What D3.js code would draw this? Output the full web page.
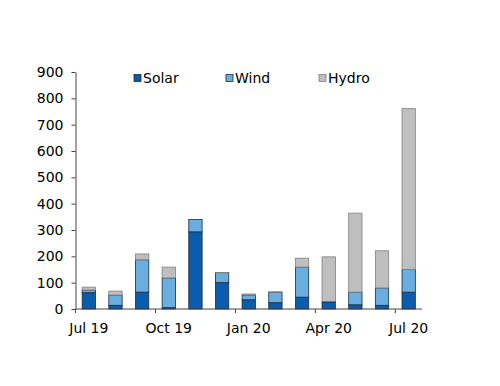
<!DOCTYPE html>
<html>
<head>
<meta charset="utf-8">
<script src="https://cdn.jsdelivr.net/npm/d3@7"></script>
<style>
  body { margin: 0; background: #fff; }
  svg text { font-family: "DejaVu Sans", Verdana, sans-serif; fill: #000; }
</style>
</head>
<body>
<svg id="chart" width="500" height="386"></svg>
<script>
// monthly values, Jul 19 .. Jul 20
const months = ['Jul 19', 'Aug 19', 'Sep 19', 'Oct 19', 'Nov 19', 'Dec 19',
                'Jan 20', 'Feb 20', 'Mar 20', 'Apr 20', 'May 20', 'Jun 20', 'Jul 20'];
const solar = [62, 14, 64, 5, 293, 100, 35, 24, 45, 27, 16, 14, 64];
const wind  = [10, 39, 123, 113, 47, 38, 18, 40, 114, 2, 48, 66, 86];
const hydro = [11, 15, 22, 41, 0, 1, 4, 1, 34, 169, 300, 141, 611];
const tickMonths = ['Jul 19', 'Oct 19', 'Jan 20', 'Apr 20', 'Jul 20'];
const yTicks = [0, 100, 200, 300, 400, 500, 600, 700, 800, 900];

const seriesNames = ['Solar', 'Wind', 'Hydro'];
const fills = {Solar: '#0b5cad', Wind: '#6aaee0', Hydro: '#bfbfbf'};
const strokes = {Solar: '#1b2b40', Wind: '#1b2b40', Hydro: '#7f7f7f'};

const fontSize = 14;

const
svg = d3.select('#chart'),
margin = {left: 75.5, right: 78, top: 72, bottom: 77},
width = 500 - margin.left - margin.right,
height = 386 - margin.top - margin.bottom,
g = svg.append('g').attr('transform', `translate(${margin.left},${margin.top})`);

const rows = months.map((m, i) => ({month: m, Solar: solar[i], Wind: wind[i], Hydro: hydro[i]}));
const stacked = d3.stack().keys(seriesNames)(rows);

const x = d3.scaleBand().domain(months).range([0, width]).paddingInner(0.5).paddingOuter(0.25);
const y = d3.scaleLinear().domain([0, 900]).range([height, 0]);

// bars
g.selectAll('g.series')
  .data(stacked)
  .join('g')
  .attr('class', 'series')
  .attr('fill', d => fills[d.key])
  .attr('stroke', d => strokes[d.key])
  .attr('stroke-width', 0.8)
  .selectAll('rect')
  .data(d => d.filter(p => p[1] - p[0] > 0))
  .join('rect')
  .attr('x', d => x(d.data.month))
  .attr('width', x.bandwidth())
  .attr('y', d => y(d[1]))
  .attr('height', d => y(d[0]) - y(d[1]));

// y axis
const yAxis = g.append('g')
  .call(d3.axisLeft(y).tickValues(yTicks).tickSize(4).tickPadding(8).tickSizeOuter(0));
yAxis.select('.domain').attr('stroke', '#444');
yAxis.selectAll('.tick line').attr('stroke', '#444');
yAxis.selectAll('.tick text').attr('font-size', fontSize).style('font-family', '"DejaVu Sans", Verdana, sans-serif');

// x axis: ticks on band boundaries, labels under the bars
const xAxis = g.append('g').attr('transform', `translate(0,${height})`);
xAxis.append('line')
  .attr('x1', 0).attr('x2', width)
  .attr('stroke', '#444');
xAxis.selectAll('line.tick')
  .data(tickMonths)
  .join('line')
  .attr('class', 'tick')
  .attr('x1', m => x(m) - x.bandwidth() / 2)
  .attr('x2', m => x(m) - x.bandwidth() / 2)
  .attr('y1', 0).attr('y2', 4)
  .attr('stroke', '#444');
xAxis.selectAll('text')
  .data(tickMonths)
  .join('text')
  .attr('x', m => x(m) + x.bandwidth() / 2)
  .attr('y', 24)
  .attr('text-anchor', 'middle')
  .attr('font-size', fontSize)
  .text(m => m);

// legend
const legendX = [134, 226, 319];
const legend = svg.append('g')
  .selectAll('g')
  .data(seriesNames)
  .join('g')
  .attr('transform', (d, i) => `translate(${legendX[i]},78)`);
legend.append('rect')
  .attr('x', 0).attr('y', -3.5)
  .attr('width', 7).attr('height', 7)
  .attr('fill', d => fills[d])
  .attr('stroke', d => strokes[d])
  .attr('stroke-width', 0.8);
legend.append('text')
  .attr('x', 9).attr('y', 5)
  .attr('font-size', fontSize)
  .text(d => d);
</script>
</body>
</html>
